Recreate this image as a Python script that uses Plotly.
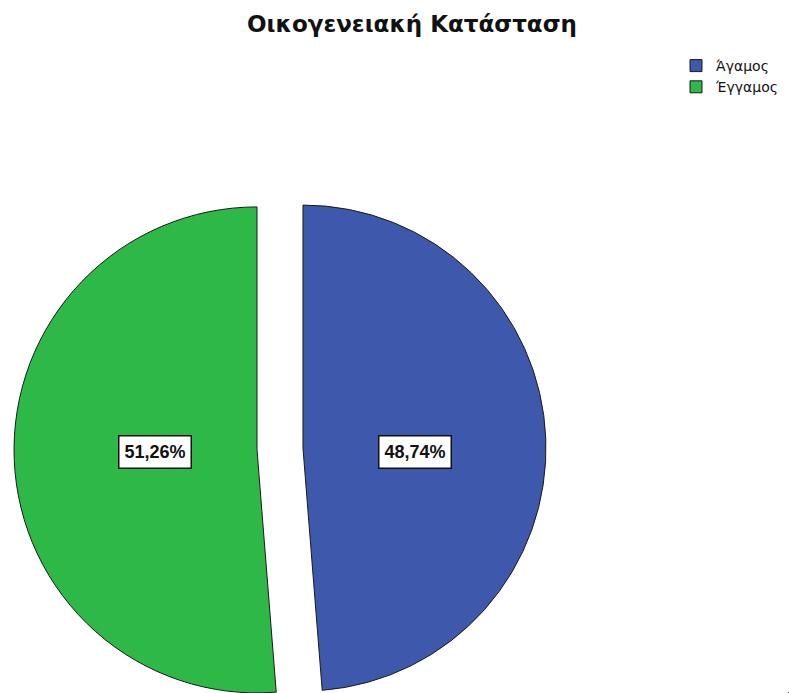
import math
import plotly.graph_objects as go

# Marital status distribution (percent of respondents)
labels = ["Άγαμος", "Έγγαμος"]
percentages = [48.74, 51.26]
slice_colors = ["#3E58AC", "#2EB848"]
chart_title = "Οικογενειακή Κατάσταση"

W, H = 789, 693
CX, CY, R = 280, 449, 243      # pie centre and radius in pixels
PULL_PX = 23                    # how far each slice is exploded outwards
LABEL_K = 0.44                  # label distance from centre, as fraction of R
LABEL_DX, LABEL_DY = 5, 3       # small nudge of the value boxes
CLEAR = "rgba(0,0,0,0)"


def fmt(v):
    return f"{v:.2f}".replace(".", ",") + "%"


fig = go.Figure()

# Legend carrier: a pie of negligible size that only feeds the legend
fig.add_trace(go.Pie(
    labels=labels, values=percentages, sort=False, direction="clockwise",
    marker=dict(colors=slice_colors, line=dict(color="#1a1a1a", width=1)),
    textinfo="none", hoverinfo="skip",
    domain=dict(x=[0.9995, 1.0], y=[0.0, 0.0005]),
    showlegend=True,
))

total = sum(percentages)
start = 0.0
annotations = []
for i, v in enumerate(percentages):
    span = 360.0 * v / total
    mid = math.radians(start + span / 2.0)
    start += span
    # unit vector of the slice bisector in screen coordinates (y down)
    ux, uy = math.sin(mid), -math.cos(mid)
    cx, cy = CX + PULL_PX * ux, CY + PULL_PX * uy

    cols = [slice_colors[j] if j == i else CLEAR for j in range(len(labels))]
    widths = [1 if j == i else 0 for j in range(len(labels))]
    fig.add_trace(go.Pie(
        labels=labels, values=percentages, sort=False, direction="clockwise",
        rotation=0,
        marker=dict(colors=cols, line=dict(color="#1a1a1a", width=widths)),
        textinfo="none", hoverinfo="skip", showlegend=False,
        domain=dict(
            x=[max(0, (cx - R) / W), min(1, (cx + R) / W)],
            y=[max(0, (H - cy - R) / H), min(1, (H - cy + R) / H)],
        ),
    ))

    lx = (cx + LABEL_K * R * ux + LABEL_DX) / W
    ly = 1 - (CY + LABEL_DY) / H
    annotations.append(dict(
        x=lx, y=ly, xref="paper", yref="paper", showarrow=False,
        text=f"<b>{fmt(v)}</b>",
        font=dict(family="Liberation Sans, Arial, sans-serif", size=18, color="#111111"),
        bgcolor="white", bordercolor="#111111", borderwidth=1.5, borderpad=1,
        width=69, height=29, xanchor="center", yanchor="middle",
    ))

fig.update_layout(
    width=W, height=H,
    margin=dict(l=0, r=0, t=0, b=0),
    paper_bgcolor="white", plot_bgcolor="white",
    title=dict(
        text=chart_title, x=412 / W, xanchor="center",
        y=1 - 24 / H, yanchor="middle", yref="container",
        font=dict(family="DejaVu Sans, sans-serif", size=23, color="#111111", weight="bold"),
    ),
    legend=dict(
        x=676 / W, xanchor="left", y=1 - 50 / H, yanchor="top",
        font=dict(family="DejaVu Sans, sans-serif", size=14, color="#111111"),
        bgcolor="rgba(0,0,0,0)", itemwidth=30, tracegroupgap=0,
    ),
    annotations=annotations,
)

fig.write_html("out.html")
